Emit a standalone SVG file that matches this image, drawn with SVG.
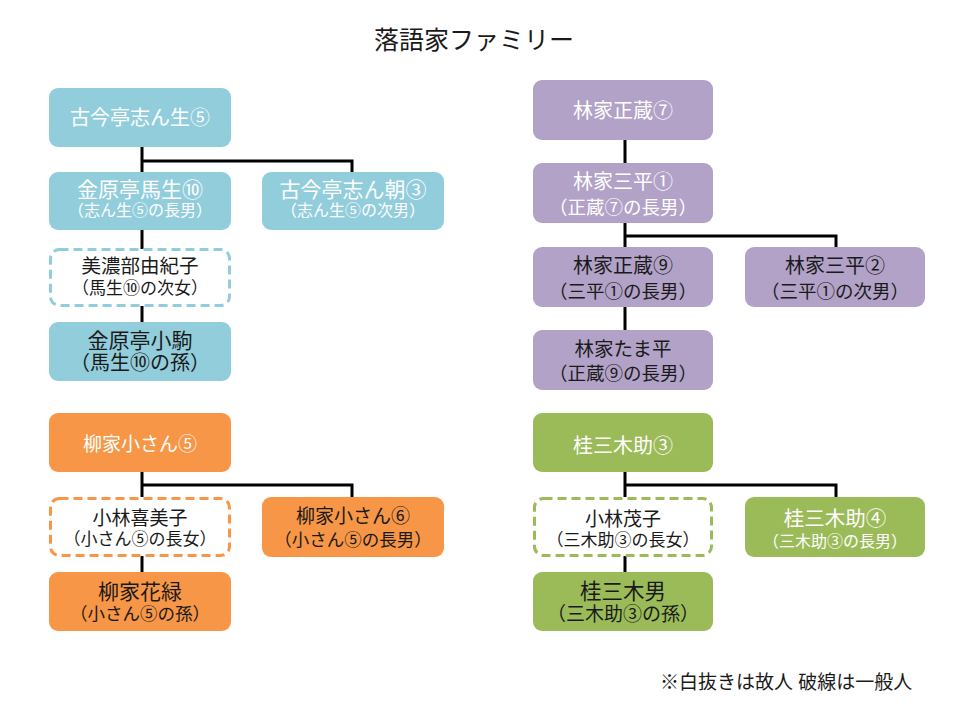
<svg xmlns="http://www.w3.org/2000/svg" width="960" height="720" viewBox="0 0 960 720">
<style>
text{font-family:"Liberation Sans","Noto Sans CJK JP",sans-serif;text-anchor:middle;dominant-baseline:central;fill:#1a1a1a}
.w{fill:#ffffff}
.blue{fill:#92cddc}.purple{fill:#b2a2c7}.orange{fill:#f79646}.green{fill:#9bbb59}
.dash{fill:#ffffff;stroke-width:3;stroke-dasharray:9 5}
.db{stroke:#92cddc}.do{stroke:#f79646}.dg{stroke:#9bbb59}
.conn path{fill:none;stroke:#000;stroke-width:3}
</style>
<rect width="960" height="720" fill="#ffffff"/>
<text x="474" y="40" font-size="25">落語家ファミリー</text>

<g class="conn" id="connectors">
<path d="M142 147V172M142 161H352V172M142 230V249M142 306V322"/>
<path d="M625 140V163M625 223V247M625 236H836V247M625 307V330"/>
<path d="M142 472V497M142 485H352V497M142 556V572"/>
<path d="M625 472V497M625 485H836V497M625 556V572"/>
</g>

<g id="n-shinsho5"><rect class="blue" x="49" y="88" width="182" height="59" rx="9"/><text class="w" x="140" y="118" font-size="20">古今亭志ん生⑤</text></g>
<g id="n-basho10"><rect class="blue" x="49" y="172" width="182" height="58" rx="9"/><text class="w" x="140" y="189" font-size="21">金原亭馬生⑩</text><text class="w" x="140" y="210" font-size="16">（志ん生⑤の長男）</text></g>
<g id="n-shincho3"><rect class="blue" x="262" y="172" width="182" height="58" rx="9"/><text class="w" x="353" y="189" font-size="21">古今亭志ん朝③</text><text class="w" x="353" y="210" font-size="16">（志ん生⑤の次男）</text></g>
<g id="n-minobe"><rect class="dash db" x="50.5" y="249.5" width="179" height="56" rx="9"/><text x="140" y="266" font-size="19.5">美濃部由紀子</text><text x="140" y="288" font-size="17">（馬生⑩の次女）</text></g>
<g id="n-kogoma"><rect class="blue" x="49" y="322" width="182" height="59" rx="9"/><text x="140" y="340" font-size="21">金原亭小駒</text><text x="140" y="363" font-size="20">（馬生⑩の孫）</text></g>

<g id="n-shozo7"><rect class="purple" x="533" y="80" width="180" height="60" rx="9"/><text class="w" x="623" y="111" font-size="20">林家正蔵⑦</text></g>
<g id="n-sanpei1"><rect class="purple" x="533" y="163" width="180" height="60" rx="9"/><text class="w" x="623" y="182" font-size="20">林家三平①</text><text class="w" x="623" y="207" font-size="18.5">（正蔵⑦の長男）</text></g>
<g id="n-shozo9"><rect class="purple" x="533" y="247" width="180" height="60" rx="9"/><text x="623" y="266" font-size="20">林家正蔵⑨</text><text x="623" y="291" font-size="18.5">（三平①の長男）</text></g>
<g id="n-sanpei2"><rect class="purple" x="745" y="247" width="180" height="60" rx="9"/><text x="835" y="266" font-size="20">林家三平②</text><text x="835" y="291" font-size="18.5">（三平①の次男）</text></g>
<g id="n-tamahei"><rect class="purple" x="533" y="330" width="180" height="60" rx="9"/><text x="623" y="349" font-size="19.5">林家たま平</text><text x="623" y="373" font-size="18.5">（正蔵⑨の長男）</text></g>

<g id="n-kosan5"><rect class="orange" x="49" y="413" width="182" height="59" rx="9"/><text class="w" x="140" y="444" font-size="19">柳家小さん⑤</text></g>
<g id="n-kimiko"><rect class="dash do" x="50.5" y="498.5" width="179" height="57" rx="9"/><text x="140" y="518" font-size="19">小林喜美子</text><text x="140" y="539" font-size="17">（小さん⑤の長女）</text></g>
<g id="n-kosan6"><rect class="orange" x="262" y="497" width="182" height="60" rx="9"/><text x="353" y="516" font-size="19">柳家小さん⑥</text><text x="353" y="540" font-size="17.5">（小さん⑤の長男）</text></g>
<g id="n-karoku"><rect class="orange" x="49" y="572" width="182" height="59" rx="9"/><text x="140" y="591" font-size="21">柳家花緑</text><text x="140" y="614" font-size="17.5">（小さん⑤の孫）</text></g>

<g id="n-mikisuke3"><rect class="green" x="533" y="413" width="180" height="59" rx="9"/><text class="w" x="623" y="446" font-size="20">桂三木助③</text></g>
<g id="n-shigeko"><rect class="dash dg" x="534.5" y="498.5" width="177" height="57" rx="9"/><text x="623" y="519" font-size="19">小林茂子</text><text x="623" y="540" font-size="17">（三木助③の長女）</text></g>
<g id="n-mikisuke4"><rect class="green" x="745" y="497" width="180" height="60" rx="9"/><text class="w" x="835" y="518" font-size="20.5">桂三木助④</text><text class="w" x="835" y="541" font-size="16">（三木助③の長男）</text></g>
<g id="n-mikio"><rect class="green" x="533" y="572" width="180" height="59" rx="9"/><text x="623" y="592" font-size="21.5">桂三木男</text><text x="623" y="614" font-size="19">（三木助③の孫）</text></g>

<text x="660" y="682" font-size="19" style="text-anchor:start">※白抜きは故人 破線は一般人</text>
</svg>
